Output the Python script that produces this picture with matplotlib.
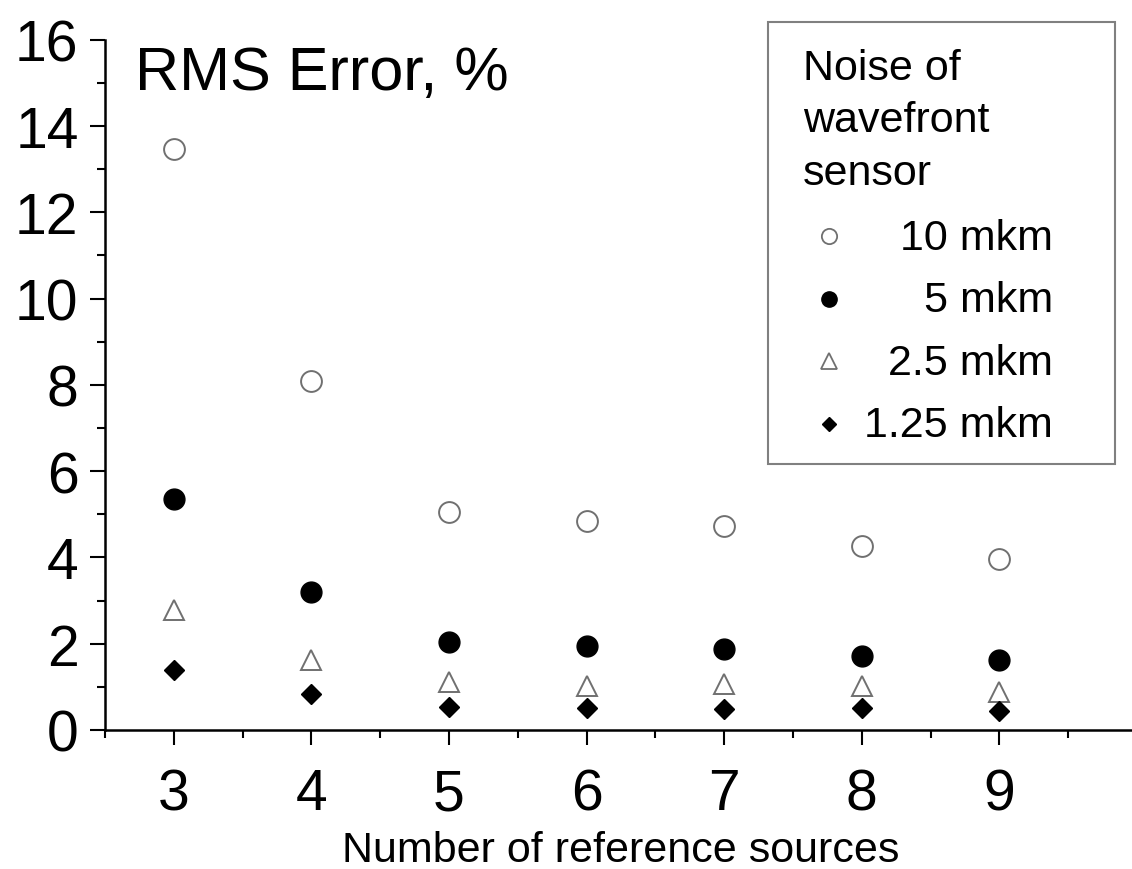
import matplotlib
matplotlib.use("Agg")
import matplotlib.pyplot as plt
from matplotlib.lines import Line2D
from matplotlib.patches import Rectangle
from matplotlib.ticker import FixedLocator

plt.rcParams['font.family'] = ['Liberation Sans', 'DejaVu Sans']

sources = [3, 4, 5, 6, 7, 8, 9]
err_10 = [13.46, 8.09, 5.05, 4.84, 4.73, 4.26, 3.96]
err_5 = [5.35, 3.20, 2.04, 1.95, 1.88, 1.72, 1.62]
err_2_5 = [2.78, 1.62, 1.11, 1.02, 1.07, 1.02, 0.88]
err_1_25 = [1.39, 0.83, 0.53, 0.51, 0.49, 0.51, 0.44]
labels = ["10 mkm", "5 mkm", "2.5 mkm", "1.25 mkm"]

W, H = 1132, 870
fig = plt.figure(figsize=(W / 100, H / 100), dpi=100)

def fx(px):
    return px / W

def fy(py):
    return 1 - py / H

# axes box in pixels: left 105, bottom 731, top 40.6
ax = fig.add_axes([fx(105), fy(731), (1137 - 105) / W, (731 - 40.6) / H])

gray = "#707070"
styles = [
    dict(marker="o", ms=15, mfc="white", mec=gray, mew=1.4),
    dict(marker="o", ms=15, mfc="black", mec="black", mew=1.0),
    dict(marker="^", ms=15, mfc="white", mec=gray, mew=1.4),
    dict(marker="D", ms=10, mfc="black", mec="black", mew=1.0),
]
series = [err_10, err_5, err_2_5, err_1_25]
for vals, st in zip(series, styles):
    ax.plot(sources, vals, ls="none", **st)

ax.set_xlim(2.5, 10)
ax.set_ylim(0, 16)
ax.spines["top"].set_visible(False)
ax.spines["right"].set_visible(False)
for s in ["left", "bottom"]:
    ax.spines[s].set_linewidth(1.8)

ax.xaxis.set_major_locator(FixedLocator(sources))
ax.xaxis.set_minor_locator(FixedLocator([2.5, 3.5, 4.5, 5.5, 6.5, 7.5, 8.5, 9.5]))
ax.yaxis.set_major_locator(FixedLocator(range(0, 17, 2)))
ax.yaxis.set_minor_locator(FixedLocator(range(1, 16, 2)))
ax.tick_params(which="major", length=11, width=1.5, labelsize=41)
ax.tick_params(which="minor", length=5.5, width=1.5)
ax.tick_params(axis="y", which="major", pad=8)
ax.tick_params(axis="x", which="major", pad=16)

ax.set_xlabel("Number of reference sources", fontsize=31, labelpad=6)

fig.text(fx(135), fy(90), "RMS Error, %", fontsize=44, ha="left", va="baseline")

# legend drawn by hand so the labels can be right aligned
fig.add_artist(Rectangle((fx(768), fy(465)), (1115 - 768) / W, (465 - 23) / H,
                         transform=fig.transFigure, fill=False,
                         edgecolor="#808080", lw=1.5))
for i, line in enumerate(["Noise of", "wavefront", "sensor"]):
    fig.text(fx(803), fy(80 + i * 52.5), line, fontsize=31, ha="left", va="baseline")

leg_styles = [
    dict(marker="o", ms=11, mfc="white", mec=gray, mew=1.3),
    dict(marker="o", ms=11, mfc="black", mec="black", mew=1.0),
    dict(marker="^", ms=11, mfc="white", mec=gray, mew=1.3),
    dict(marker="D", ms=7, mfc="black", mec="black", mew=1.0),
]
for i, (lab, st) in enumerate(zip(labels, leg_styles)):
    base = 250 + i * 62.5
    fig.add_artist(Line2D([fx(829)], [fy(base - 13)], transform=fig.transFigure,
                          ls="none", **st))
    fig.text(fx(1053), fy(base), lab, fontsize=31, ha="right", va="baseline")

fig.savefig("out.png", dpi=100)
